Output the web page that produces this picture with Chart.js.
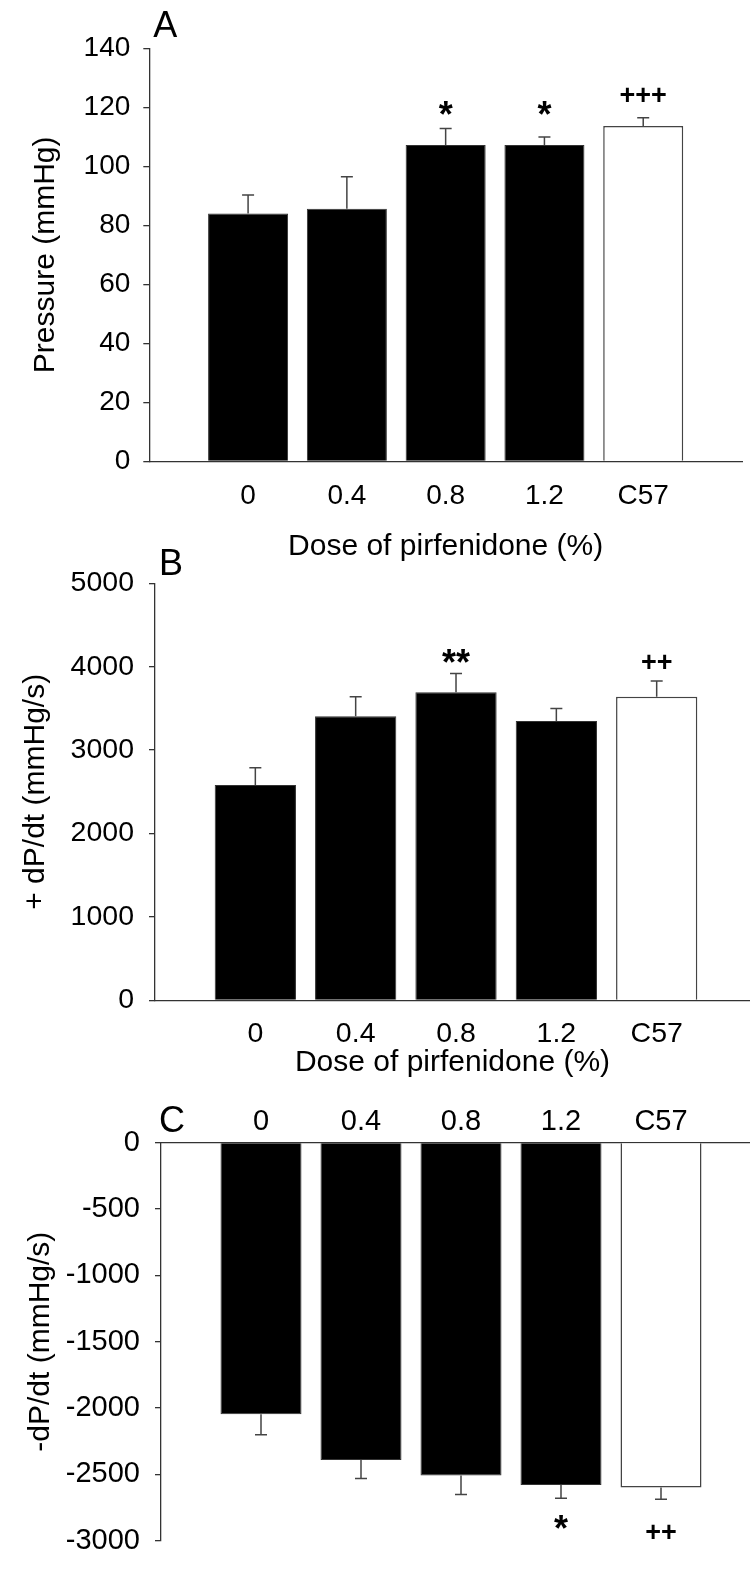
<!DOCTYPE html>
<html>
<head>
<meta charset="utf-8">
<script src="https://cdn.jsdelivr.net/npm/chart.js@4.4.0/dist/chart.umd.min.js"></script>
<style>
    html, body { margin: 0; padding: 0; background: #fff; }
    body { width: 750px; height: 1573px; position: relative; overflow: hidden; }
    .panel { position: absolute; left: 0; width: 750px; }
</style>
</head>
<body>
<div class="panel" style="top:0px"><canvas id="chartA" width="750" height="570"></canvas></div>
<div class="panel" style="top:540px"><canvas id="chartB" width="750" height="550"></canvas></div>
<div class="panel" style="top:1090px"><canvas id="chartC" width="750" height="483"></canvas></div>
<script>
// Dose groups (C57 = wild-type control)
const doses = ['0', '0.4', '0.8', '1.2', 'C57'];

// Panel A - pressure (mmHg)
const pressure = [84, 85.6, 107.2, 107.2, 113.7];
const pressureErr = [6.3, 10.9, 5.6, 2.7, 2.8];
const pressureMarks = ['', '', '*', '*', '+++'];
const pressureMarkAt = [null, null, 119.7, 119.7, 124.3];
const pressureTicks = [0, 20, 40, 60, 80, 100, 120, 140];

// Panel B - +dP/dt (mmHg/s)
const dpdtMax = [2582, 3406, 3693, 3348, 3639];
const dpdtMaxErr = [205, 233, 225, 152, 189];
const dpdtMaxMarks = ['', '', '**', '', '++'];
const dpdtMaxMarkAt = [null, null, 4131, null, 4057];
const dpdtMaxTicks = [0, 1000, 2000, 3000, 4000, 5000];

// Panel C - -dP/dt (mmHg/s)
const dpdtMin = [-2047, -2393, -2510, -2580, -2599];
const dpdtMinErr = [154, 139, 142, 101, 89];
const dpdtMinMarks = ['', '', '', '*', '++'];
const dpdtMinMarkAt = [null, null, null, -2861, -2933];
const dpdtMinTicks = [-3000, -2500, -2000, -1500, -1000, -500, 0];

const FONT = "'Liberation Sans', Arial, sans-serif";
const AXIS_COLOR = '#333';

// Draws error bars, significance marks and the panel letter
const panelExtras = {
    id: 'panelExtras',
    afterDatasetsDraw(chart, args, opts) {
        const ctx = chart.ctx;
        const yScale = chart.scales.y;
        const meta = chart.getDatasetMeta(0);
        const data = chart.data.datasets[0].data;

        ctx.save();
        ctx.strokeStyle = opts.errColor;
        ctx.lineWidth = 1.5;
        opts.err.forEach((e, i) => {
            const bar = meta.data[i];
            const v = data[i].y;
            const end = yScale.getPixelForValue(v >= 0 ? v + e : v - e);
            const x = bar.x;
            ctx.beginPath();
            ctx.moveTo(x, bar.y);
            ctx.lineTo(x, end);
            ctx.moveTo(x - 6, end);
            ctx.lineTo(x + 6, end);
            ctx.stroke();
        });

        // significance marks, centred on their level
        ctx.fillStyle = '#000';
        ctx.textAlign = 'center';
        ctx.textBaseline = 'alphabetic';
        opts.marks.forEach((m, i) => {
            if (!m) return;
            const size = m.includes('*') ? 36 : 27;
            ctx.font = 'bold ' + size + 'px ' + FONT;
            const mt = ctx.measureText(m);
            const cy = yScale.getPixelForValue(opts.markAt[i]);
            const y = cy + (mt.actualBoundingBoxAscent - mt.actualBoundingBoxDescent) / 2;
            ctx.fillText(m, meta.data[i].x, y);
        });

        // panel letter
        ctx.font = '36px ' + FONT;
        ctx.textAlign = 'left';
        ctx.fillText(opts.letter, chart.chartArea.left + opts.letterDx, chart.chartArea.top + opts.letterDy);
        ctx.restore();
    }
};

function createPanel(id, values, err, marks, markAt, yTicks, yTitle, lay) {
    const ctx = document.getElementById(id);
    return new Chart(ctx, {
        type: 'bar',
        data: {
            datasets: [{
                data: values.map((v, i) => ({ x: i + 1, y: v })),
                backgroundColor: doses.map(d => d === 'C57' ? '#fff' : '#000'),
                borderColor: doses.map(d => d === 'C57' ? '#444' : '#333'),
                borderWidth: doses.map(d => d === 'C57' ? 1.5 : 1),
                barPercentage: 0.81,
                categoryPercentage: 1
            }]
        },
        options: {
            responsive: false,
            animation: false,
            events: [],
            layout: {
                padding: { top: lay.padTop, right: lay.padRight, bottom: lay.padBottom, left: 0 }
            },
            scales: {
                x: {
                    type: 'linear',
                    position: lay.xPos,
                    offset: false,
                    min: 0,
                    max: lay.xMax,
                    afterBuildTicks: s => { s.ticks = doses.map((d, i) => ({ value: i + 1 })); },
                    afterFit: s => { s.height = lay.xHeight; },
                    grid: { display: false, drawTicks: false, offset: false },
                    border: { display: true, color: AXIS_COLOR, width: 1.3 },
                    ticks: {
                        autoSkip: false,
                        maxRotation: 0,
                        padding: lay.tickPadX,
                        color: '#000',
                        font: { family: FONT, size: lay.tickSize },
                        callback: v => doses[v - 1] || ''
                    },
                    title: {
                        display: !!lay.xTitle,
                        text: lay.xTitle || '',
                        color: '#000',
                        font: { family: FONT, size: 30 },
                        padding: { top: 0, bottom: lay.xTitlePad || 0 }
                    }
                },
                y: {
                    min: yTicks[0],
                    max: yTicks[yTicks.length - 1],
                    afterBuildTicks: s => { s.ticks = yTicks.map(v => ({ value: v })); },
                    afterFit: s => { s.width = lay.yWidth; },
                    grid: {
                        drawOnChartArea: false,
                        drawTicks: true,
                        tickLength: 6,
                        color: AXIS_COLOR,
                        lineWidth: 1.3
                    },
                    border: { display: true, color: AXIS_COLOR, width: 1.3 },
                    ticks: {
                        padding: lay.tickPadY,
                        color: '#000',
                        font: { family: FONT, size: lay.tickSize },
                        callback: v => String(v)
                    },
                    title: {
                        display: true,
                        text: yTitle,
                        color: '#000',
                        font: { family: FONT, size: 30 },
                        padding: { top: lay.yTitlePad, bottom: 0 }
                    }
                }
            },
            plugins: {
                legend: { display: false },
                tooltip: { enabled: false },
                panelExtras: {
                    err: err,
                    marks: marks,
                    markAt: markAt,
                    errColor: '#444',
                    letter: lay.letter,
                    letterDx: lay.letterDx,
                    letterDy: lay.letterDy
                }
            }
        },
        plugins: [panelExtras]
    });
}

createPanel('chartA', pressure, pressureErr, pressureMarks, pressureMarkAt, pressureTicks,
    'Pressure (mmHg)', {
        padTop: 48.3, padRight: 8, padBottom: 0, xHeight: 108.7, xPos: 'bottom', xMax: 6,
        yWidth: 149.3, tickPadY: 13, tickPadX: 18.5, tickSize: 28, yTitlePad: 27.5,
        xTitle: 'Dose of pirfenidone (%)', xTitlePad: 5.5,
        letter: 'A', letterDx: 4, letterDy: -11
    });

createPanel('chartB', dpdtMax, dpdtMaxErr, dpdtMaxMarks, dpdtMaxMarkAt, dpdtMaxTicks,
    '+ dP/dt (mmHg/s)', {
        padTop: 43.3, padRight: 0, padBottom: 0, xHeight: 89.7, xPos: 'bottom', xMax: 5.93,
        yWidth: 155, tickPadY: 15, tickPadX: 16.5, tickSize: 28.5, yTitlePad: 18,
        xTitle: 'Dose of pirfenidone (%)', xTitlePad: 9.6,
        letter: 'B', letterDx: 4, letterDy: -8.3
    });

createPanel('chartC', dpdtMin, dpdtMinErr, dpdtMinMarks, dpdtMinMarkAt, dpdtMinTicks,
    '-dP/dt (mmHg/s)', {
        padTop: 0, padRight: 0, padBottom: 15, xHeight: 52.7, xPos: 'top', xMax: 5.89,
        yWidth: 161, tickPadY: 15, tickPadX: 3, tickSize: 29, yTitlePad: 23,
        letter: 'C', letterDx: -2, letterDy: -10.7
    });
</script>
</body>
</html>
